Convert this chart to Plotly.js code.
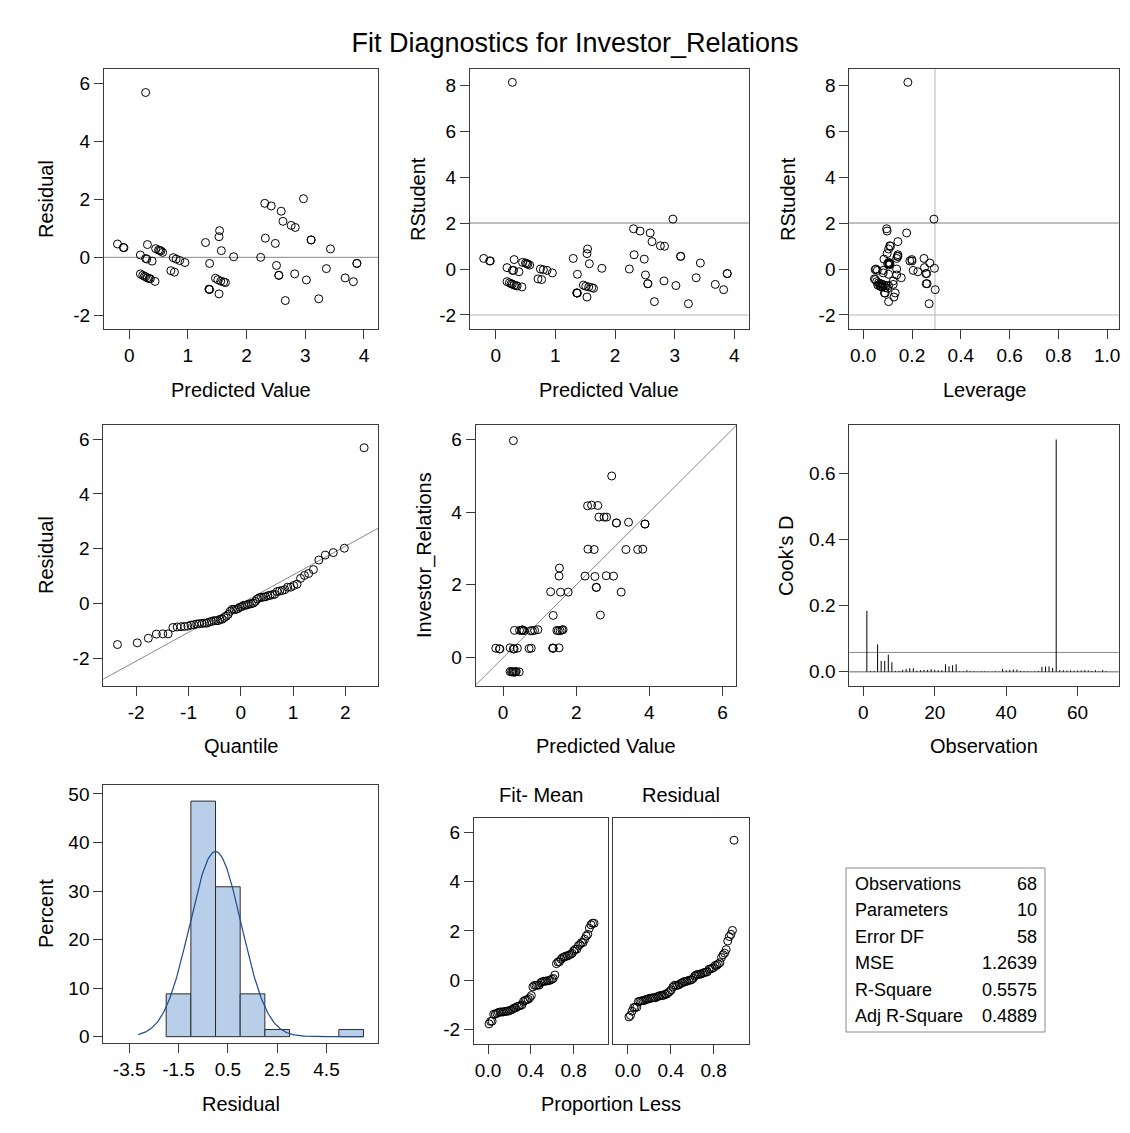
<!DOCTYPE html>
<html>
<head>
<meta charset="utf-8">
<script src="https://cdn.plot.ly/plotly-3.0.1.min.js"></script>
<style>html,body{margin:0;padding:0;background:#fff;}#chart{width:1130px;height:1133px;}</style>
</head>
<body>
<div id="chart"></div>
<script>
// ---------------- data ----------------
const predicted = [-0.20,-0.10,-0.09,0.28,0.31,0.19,0.28,0.30,0.39,0.45,0.50,0.52,0.54,0.57,
  0.19,0.23,0.26,0.28,0.31,0.34,0.36,0.44,0.75,0.80,0.86,0.95,0.71,0.77,
  1.30,1.37,1.53,1.54,1.57,1.78,1.47,1.51,1.56,1.61,1.64,1.36,1.36,1.37,1.53,
  2.24,2.31,2.42,2.59,2.62,2.76,2.83,2.97,2.32,2.49,2.51,2.55,2.55,2.66,2.82,3.02,
  3.10,3.10,3.23,3.36,3.43,3.68,3.82,3.88,3.88];
const residual = [0.46,0.34,0.33,5.68,0.44,0.08,-0.04,-0.06,-0.13,0.30,0.25,0.24,0.22,0.17,
  -0.57,-0.62,-0.65,-0.67,-0.71,-0.73,-0.74,-0.83,-0.01,-0.06,-0.11,-0.18,-0.46,-0.51,
  0.51,-0.21,0.71,0.92,0.23,0.02,-0.72,-0.77,-0.82,-0.85,-0.87,-1.10,-1.10,-1.11,-1.26,
  0.00,1.86,1.77,1.59,1.24,1.10,1.03,2.02,0.66,0.48,-0.28,-0.62,-0.62,-1.49,-0.57,-0.78,
  0.60,0.60,-1.43,-0.39,0.29,-0.71,-0.84,-0.21,-0.21];
const rstudent = [0.46,0.35,0.35,8.12,0.41,0.06,-0.06,-0.06,-0.12,0.29,0.26,0.23,0.21,0.17,
  -0.55,-0.60,-0.64,-0.66,-0.70,-0.72,-0.74,-0.78,0.00,-0.03,-0.06,-0.17,-0.43,-0.46,
  0.46,-0.23,0.67,0.87,0.23,0.03,-0.70,-0.75,-0.78,-0.81,-0.84,-1.04,-1.04,-1.05,-1.22,
  0.00,1.75,1.65,1.57,1.19,1.01,0.99,2.17,0.62,0.43,-0.26,-0.64,-0.64,-1.42,-0.52,-0.72,
  0.55,0.55,-1.51,-0.38,0.26,-0.67,-0.90,-0.20,-0.20];
const leverage = [0.249,0.191,0.200,0.183,0.199,0.251,0.205,0.082,0.224,0.104,0.107,0.100,0.110,0.105,
  0.055,0.063,0.071,0.077,0.085,0.093,0.068,0.075,0.052,0.049,0.058,0.082,0.046,0.050,
  0.137,0.104,0.098,0.104,0.107,0.292,0.060,0.070,0.080,0.090,0.100,0.087,0.131,0.090,0.126,
  0.137,0.096,0.098,0.178,0.142,0.109,0.112,0.290,0.142,0.085,0.137,0.262,0.258,0.104,0.123,0.104,
  0.142,0.140,0.270,0.156,0.273,0.123,0.295,0.257,0.260];
const cooksD = [0.185,0.003,0.003,0.083,0.033,0.033,0.052,0.029,0.003,0.003,0.006,0.009,0.011,0.011,
  0.004,0.005,0.006,0.006,0.008,0.006,0.005,0.005,0.023,0.017,0.020,0.023,0.002,0.002,0.005,0.002,
  0.002,0.001,0.002,0.002,0.001,0.001,0.002,0.001,0.009,0.005,0.006,0.007,0.007,0.003,0.002,0.002,
  0.001,0.002,0.003,0.015,0.016,0.016,0.012,0.704,0.005,0.005,0.004,0.004,0.004,0.004,0.004,0.005,
  0.004,0.003,0.005,0.002,0.005,0.002];
const statLabels = ["Observations","Parameters","Error DF","MSE","R-Square","Adj R-Square"];
const statValues = ["68","10","58","1.2639","0.5575","0.4889"];
const nObs = 68, nParams = 10;
const rstudentCut = 2;
const leverageCut = 2*nParams/nObs;
const cooksCut = 4/nObs;
const residSD = 1.046;          // slope of Q-Q reference line / normal curve sd
const histStart = -2, histEnd = 6, histSize = 1;

// tick labels
const tkPredX = [0,1,2,3,4];
const tkResidY = [-2,0,2,4,6];
const tkRstudY = [-2,0,2,4,6,8];
const tkLevX = [0,0.2,0.4,0.6,0.8,1.0], tkLevXt = ["0.0","0.2","0.4","0.6","0.8","1.0"];
const tkQuantX = [-2,-1,0,1,2];
const tkObsPred = [0,2,4,6];
const tkObsX = [0,20,40,60];
const tkCookY = [0,0.2,0.4,0.6], tkCookYt = ["0.0","0.2","0.4","0.6"];
const tkHistX = [-3.5,-1.5,0.5,2.5,4.5];
const tkPctY = [0,10,20,30,40,50];
const tkPropX = [0,0.4,0.8], tkPropXt = ["0.0","0.4","0.8"];
const lbl = v => v.map(t => String(t).replace("\u2212","-"));

// ---------------- derived series ----------------
const observed = predicted.map((p,i)=>+(p+residual[i]).toFixed(2));
const obsIndex = cooksD.map((d,i)=>i+1);
function invNorm(p){
  const a=[-39.69683028665376,220.9460984245205,-275.9285104469687,138.3577518672690,-30.66479806614716,2.506628277459239];
  const b=[-54.47609879822406,161.5858368580409,-155.6989798598866,66.80131188771972,-13.28068155288572];
  const c=[-0.007784894002430293,-0.3223964580411365,-2.400758277161838,-2.549732539343734,4.374664141464968,2.938163982698783];
  const d=[0.007784695709041462,0.3224671290700398,2.445134137142996,3.754408661907416];
  const pl=0.02425;let q,r;
  if(p<pl){q=Math.sqrt(-2*Math.log(p));return (((((c[0]*q+c[1])*q+c[2])*q+c[3])*q+c[4])*q+c[5])/((((d[0]*q+d[1])*q+d[2])*q+d[3])*q+1);}
  if(p>1-pl){q=Math.sqrt(-2*Math.log(1-p));return -(((((c[0]*q+c[1])*q+c[2])*q+c[3])*q+c[4])*q+c[5])/((((d[0]*q+d[1])*q+d[2])*q+d[3])*q+1);}
  q=p-0.5;r=q*q;return (((((a[0]*r+a[1])*r+a[2])*r+a[3])*r+a[4])*r+a[5])*q/(((((b[0]*r+b[1])*r+b[2])*r+b[3])*r+b[4])*r+1);
}
const n = residual.length;
const sortedResid = residual.slice().sort((a,b)=>a-b);
const blom = sortedResid.map((v,i)=>(i+1-0.375)/(n+0.25));
const qq = blom.map(invNorm);
const meanPred = predicted.reduce((s,v)=>s+v,0)/n;
const fitMean = predicted.map(v=>v-meanPred).sort((a,b)=>a-b);
const cookX=[],cookY=[];
cooksD.forEach((d,i)=>{cookX.push(obsIndex[i],obsIndex[i],null);cookY.push(0,d,null);});
const curveX=[],curveY=[];
for(let x=-3.13;x<=6.0;x+=0.03){curveX.push(x);curveY.push(100*histSize*Math.exp(-0.5*(x/residSD)**2)/(residSD*Math.sqrt(2*Math.PI)));}

// ---------------- layout helpers ----------------
const W=1130,H=1133;
const FONT="Liberation Sans, Arial, sans-serif";
const dxp=(a,b)=>[a/W,b/W];
const dyp=(t,b)=>[1-b/H,1-t/H];
function axis(domain, range, tickvals, ticktext, anchor, extra){
  return Object.assign({domain, range, anchor, tickvals, ticktext: ticktext||lbl(tickvals),
    showline:true, mirror:true, linecolor:'#3a3a3a', linewidth:1,
    ticks:'outside', ticklen:9, tickcolor:'#3a3a3a', tickwidth:1,
    showgrid:false, zeroline:false, fixedrange:true,
    tickfont:{family:FONT,size:19,color:'#000'}}, extra||{});
}
const circ = {symbol:'circle-open', size:8, color:'#000', line:{width:1,color:'#000'}};
function pts(x,y,xa,ya){return {type:'scatter',mode:'markers',x,y,xaxis:xa,yaxis:ya,marker:circ,hoverinfo:'skip'};}
function line(x,y,xa,ya,color,w){return {type:'scatter',mode:'lines',x,y,xaxis:xa,yaxis:ya,line:{color,width:w||1},hoverinfo:'skip'};}
function hline(xa,ya,yv,color){return {type:'line',xref:xa+' domain',yref:ya,x0:0,x1:1,y0:yv,y1:yv,line:{color,width:1},layer:'below'};}
function vline(xa,ya,xv,color){return {type:'line',xref:xa,yref:ya+' domain',x0:xv,x1:xv,y0:0,y1:1,line:{color,width:1},layer:'below'};}
function ann(text,px,py,size,rot,anchor){return {text,x:px/W,y:1-py/H,xref:'paper',yref:'paper',showarrow:false,
  xanchor:anchor||'center',yanchor:'middle',textangle:rot||0,font:{family:FONT,size:size||20,color:'#000'}};}

const traces = [
  pts(predicted,residual,'x','y'),
  pts(predicted,rstudent,'x2','y2'),
  pts(leverage,rstudent,'x3','y3'),
  line([-2.7,2.7],[-2.7*residSD,2.7*residSD],'x4','y4','#888'),
  pts(qq,sortedResid,'x4','y4'),
  line([-1,7],[-1,7],'x5','y5','#888'),
  pts(predicted,observed,'x5','y5'),
  line(cookX,cookY,'x6','y6','#000'),
  {type:'histogram',x:residual,xaxis:'x7',yaxis:'y7',histnorm:'percent',autobinx:false,
   xbins:{start:histStart,end:histEnd,size:histSize},marker:{color:'#b9cee8',line:{color:'#2b2b2b',width:1}},hoverinfo:'skip'},
  line(curveX,curveY,'x7','y7','#1f4a8a',1.2),
  pts(blom,fitMean,'x8','y8'),
  pts(blom,sortedResid,'x9','y9')
];

const layout = {
  width:W,height:H,margin:{l:0,r:0,t:0,b:0},showlegend:false,
  paper_bgcolor:'#fff',plot_bgcolor:'#fff',bargap:0,
  title:{text:'Fit Diagnostics for Investor_Relations',x:575/W,xanchor:'center',y:1-43/H,yanchor:'middle',
         font:{family:FONT,size:27,color:'#000'}},
  xaxis: axis(dxp(104,378),[-0.43,4.24],tkPredX,null,'y'),
  yaxis: axis(dyp(69,329),[-2.47,6.49],tkResidY,null,'x'),
  xaxis2: axis(dxp(470,748.7),[-0.43,4.24],tkPredX,null,'y2'),
  yaxis2: axis(dyp(69,329),[-2.61,8.70],tkRstudY,null,'x2'),
  xaxis3: axis(dxp(849.3,1118.7),[-0.057,1.047],tkLevX,tkLevXt,'y3'),
  yaxis3: axis(dyp(69,329),[-2.61,8.70],tkRstudY,null,'x3'),
  xaxis4: axis(dxp(103.3,378.3),[-2.63,2.63],tkQuantX,null,'y4'),
  yaxis4: axis(dyp(425,685.7),[-2.99,6.51],tkResidY,null,'x4'),
  xaxis5: axis(dxp(475.7,736),[-0.75,6.37],tkObsPred,null,'y5'),
  yaxis5: axis(dyp(425,685.7),[-0.77,6.39],tkObsPred,null,'x5'),
  xaxis6: axis(dxp(849.3,1118.7),[-3.92,71.5],tkObsX,null,'y6'),
  yaxis6: axis(dyp(425,685.7),[-0.042,0.748],tkCookY,tkCookYt,'x6'),
  xaxis7: axis(dxp(103.3,378.3),[-4.55,6.60],tkHistX,null,'y7'),
  yaxis7: axis(dyp(785,1042.7),[-1.24,51.85],tkPctY,null,'x7'),
  xaxis8: axis(dxp(474,608.3),[-0.131,1.124],tkPropX,tkPropXt,'y8'),
  yaxis8: axis(dyp(818.3,1044),[-2.59,6.57],tkResidY,null,'x8'),
  xaxis9: axis(dxp(613.3,748.7),[-0.137,1.128],tkPropX,tkPropXt,'y9'),
  yaxis9: axis(dyp(818.3,1044),[-2.59,6.57],tkResidY,null,'x9',{ticks:'',showticklabels:false}),
  shapes:[
    hline('x','y',0,'#888'),
    hline('x2','y2',rstudentCut,'#808080'), hline('x2','y2',-rstudentCut,'#b5b5b5'),
    hline('x3','y3',rstudentCut,'#808080'), hline('x3','y3',-rstudentCut,'#b5b5b5'),
    vline('x3','y3',leverageCut,'#b5b5b5'),
    hline('x6','y6',0,'#666'), hline('x6','y6',cooksCut,'#888'),
    {type:'rect',xref:'paper',yref:'paper',x0:846/W,x1:1045/W,y0:1-1032/H,y1:1-868/H,line:{color:'#8a8a8a',width:1}}
  ],
  annotations:[
    ann('Predicted Value',241,390), ann('Residual',46,199,20,-90),
    ann('Predicted Value',609,390), ann('RStudent',418,199,20,-90),
    ann('Leverage',984,390), ann('RStudent',788,199,20,-90),
    ann('Quantile',241,746), ann('Residual',46,555,20,-90),
    ann('Predicted Value',606,746), ann('Investor_Relations',424,555,20,-90),
    ann('Observation',984,746), ann("Cook's D",786,555,20,-90),
    ann('Residual',241,1104), ann('Percent',46,914,20,-90),
    ann('Proportion Less',611,1104),
    ann('Fit- Mean',541,795), ann('Residual',681,795)
  ]
};
statLabels.forEach((t,i)=>{
  const yy = 884 + i*26.4;
  layout.annotations.push(ann(t,853,yy,18,0,'left'));
  layout.annotations.push(ann(statValues[i],1039,yy,18,0,'right'));
});

Plotly.newPlot('chart',traces,layout,{displayModeBar:false,staticPlot:true});
</script>
</body>
</html>
